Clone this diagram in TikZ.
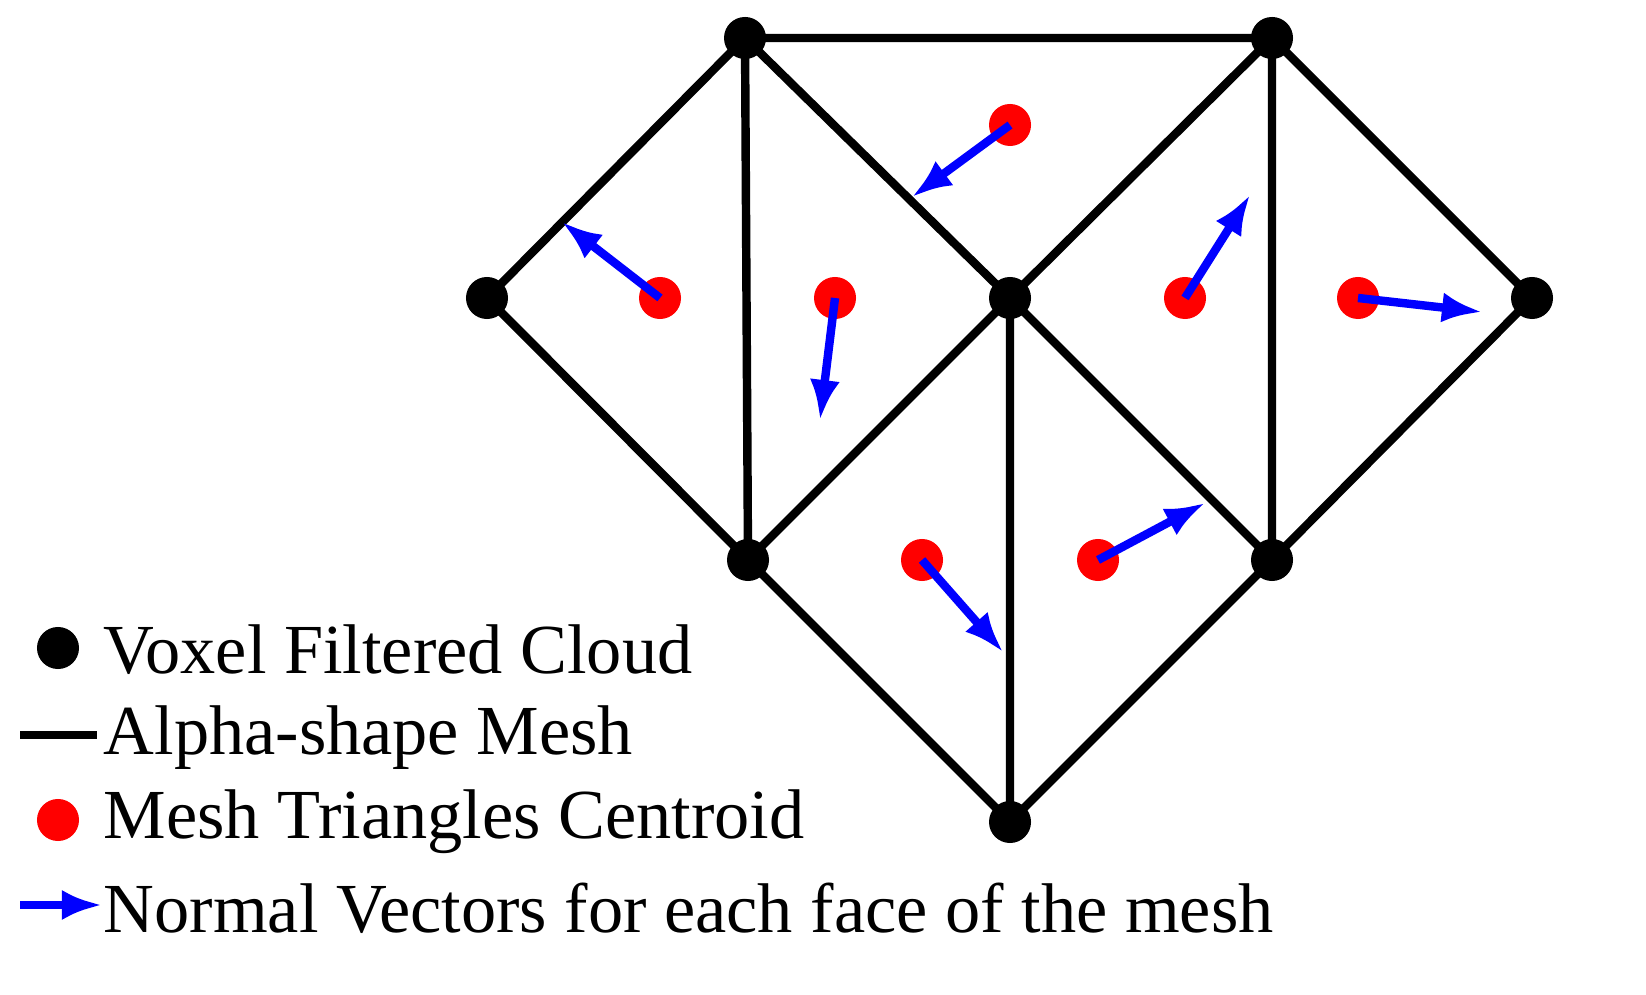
\documentclass[tikz,border=0pt]{standalone}
\usepackage{fontspec}
\setmainfont{Liberation Serif}
\usetikzlibrary{arrows.meta}
\begin{document}
\begin{tikzpicture}[x=0.01cm,y=-0.01cm,
		mesh/.style={line width=2.4pt,black},
		vox/.style={circle,fill=black,inner sep=0pt,minimum size=0.42cm},
		cen/.style={circle,fill=red,inner sep=0pt,minimum size=0.42cm},
		normal/.style={line width=2.4pt,blue,-{Latex[length=0.4cm,width=0.3cm]}},
		lbl/.style={anchor=west,inner sep=0pt,font=\fontsize{20}{24}\selectfont}
		]
		\useasboundingbox (0,0) rectangle (1646,995);
		% mesh vertices
		\coordinate (A) at (745,38);
		\coordinate (B) at (1272,38);
		\coordinate (C) at (487,298);
		\coordinate (D) at (1010,298);
		\coordinate (E) at (1532,298);
		\coordinate (F) at (748,560);
		\coordinate (G) at (1272,560);
		\coordinate (H) at (1010,822);
		% mesh edges
		\draw[mesh] (A) -- (B) (A) -- (C) (A) -- (F) (A) -- (D) (B) -- (D) (B) -- (G)
		(B) -- (E) (C) -- (F) (D) -- (F) (D) -- (H) (D) -- (G) (E) -- (G) (F) -- (H) (G) -- (H);
		\foreach \v in {A,B,C,D,E,F,G,H}
		\node[vox] at (\v) {};
		% centroids and normals
		\foreach \n/\cx/\cy/\tx/\ty in {c1/1010/125/912/197, c2/660/298/562/222, c3/835/298/820/420,
			c4/1185/298/1250/195, c5/1358/298/1482/312, c6/922/560/1003/652, c7/1098/560/1205/503}{
			\node[cen] (\n) at (\cx,\cy) {};
			\coordinate (\n t) at (\tx,\ty);
			\draw[normal] (\n.center) -- (\n t);
		}
		% legend
		\node[vox] (l1) at (58,648) {};
		\node[lbl] at (103,650) {Voxel Filtered Cloud};
		\coordinate (l2a) at (20,735);
		\coordinate (l2b) at (97,735);
		\draw[mesh] (l2a) -- (l2b);
		\node[lbl] at (103,738) {Alpha-shape Mesh};
		\node[cen] (l3) at (58,820) {};
		\node[lbl] at (103,822) {Mesh Triangles Centroid};
		\coordinate (l4a) at (20,905);
		\coordinate (l4b) at (102,905);
		\draw[normal] (l4a) -- (l4b);
		\node[lbl] at (103,908) {Normal Vectors for each face of the mesh};
\end{tikzpicture}
\end{document}
